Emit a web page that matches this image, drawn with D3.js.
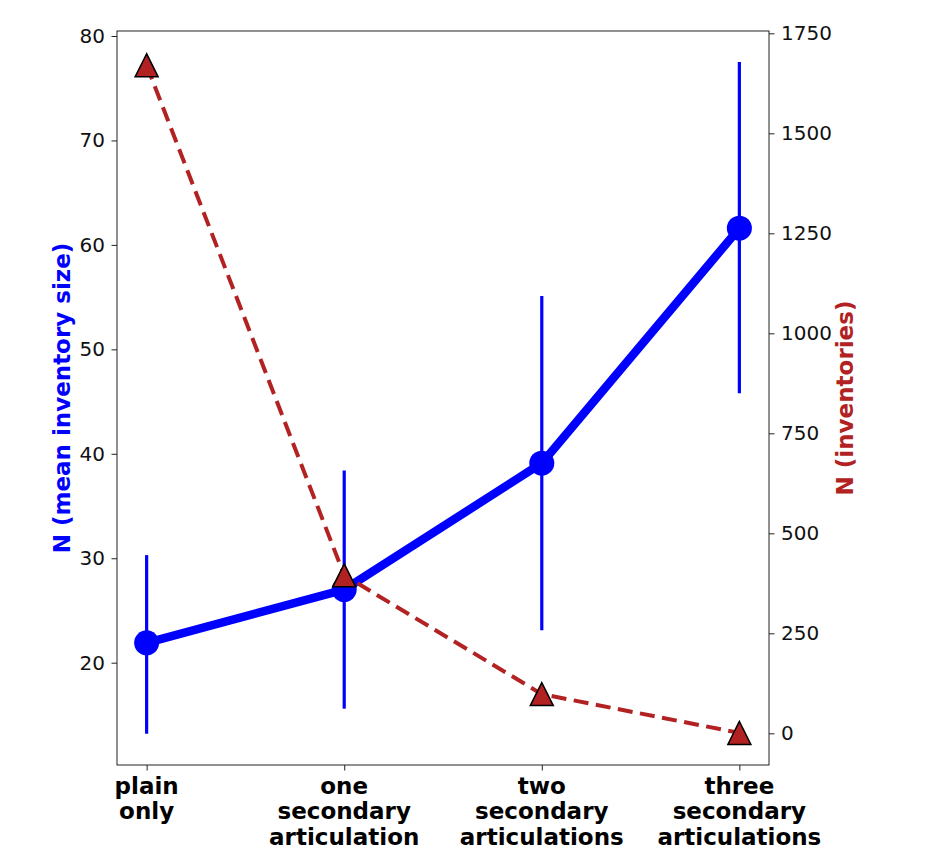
<!DOCTYPE html>
<html><head><meta charset="utf-8">
<script src="https://cdn.jsdelivr.net/npm/d3@7"></script>
<style>body{margin:0;background:#fff}svg{display:block}text{font-family:"DejaVu Sans",sans-serif}</style>
</head><body><svg id="c" width="936" height="855"></svg>
<script>
const categories = [["plain","only"],["one","secondary","articulation"],["two","secondary","articulations"],["three","secondary","articulations"]];
const meanSize = [21.9, 27.0, 39.1, 61.6];
const errLow = [13.2, 15.6, 23.1, 45.8];
const errHigh = [30.3, 38.4, 55.1, 77.5];
const inventories = [1670, 395, 98, 1];
const leftTicks = [20,30,40,50,60,70,80];
const rightTicks = [0,250,500,750,1000,1250,1500,1750];

const svg = d3.select("#c");
const L=117, R=769, T=31, B=765;
const x = d3.scaleLinear().domain([-0.15,3.15]).range([L,R]);
const yL = d3.scaleLinear().domain([20,80]).range([662.7,36.0]);
const yR = d3.scaleLinear().domain([0,1750]).range([733.3,33.3]);
const blue="#0000ff", red="#b22222";
const idx = d3.range(categories.length);

// blue series
svg.append("g").selectAll("line").data(idx).join("line")
  .attr("x1",i=>x(i)).attr("x2",i=>x(i))
  .attr("y1",i=>yL(errLow[i])).attr("y2",i=>yL(errHigh[i]))
  .attr("stroke",blue).attr("stroke-width",3.2);
svg.append("path").datum(idx)
  .attr("d",d3.line().x(i=>x(i)).y(i=>yL(meanSize[i])))
  .attr("fill","none").attr("stroke",blue).attr("stroke-width",8.5).attr("stroke-linejoin","round");
svg.append("g").selectAll("circle").data(idx).join("circle")
  .attr("cx",i=>x(i)).attr("cy",i=>yL(meanSize[i])).attr("r",12.5).attr("fill",blue);

// red series
svg.append("path").datum(idx)
  .attr("d",d3.line().x(i=>x(i)).y(i=>yR(inventories[i])))
  .attr("fill","none").attr("stroke",red).attr("stroke-width",4).attr("stroke-dasharray","15,7.5");
const triType = {draw(ctx,size){const h=Math.sqrt(size)/2;ctx.moveTo(0,-h);ctx.lineTo(-h,h);ctx.lineTo(h,h);ctx.closePath();}};
const tri = d3.symbol().type(triType).size(23*23);
svg.append("g").selectAll("path").data(idx).join("path")
  .attr("transform",i=>`translate(${x(i)},${yR(inventories[i])})`)
  .attr("d",tri).attr("fill",red).attr("stroke","#000").attr("stroke-width",1.5).attr("stroke-linejoin","miter");

// frame
svg.append("rect").attr("x",L).attr("y",T).attr("width",R-L).attr("height",B-T)
  .attr("fill","none").attr("stroke","#222").attr("stroke-width",1);

// axes
const gl = svg.append("g").attr("transform",`translate(${L},0)`)
  .call(d3.axisLeft(yL).tickValues(leftTicks).tickSize(5.5).tickPadding(6.5));
const gr = svg.append("g").attr("transform",`translate(${R},0)`)
  .call(d3.axisRight(yR).tickValues(rightTicks).tickFormat(d3.format("d")).tickSize(5.5).tickPadding(6.5));
const gx = svg.append("g").attr("transform",`translate(0,${B})`)
  .call(d3.axisBottom(x).tickValues(idx).tickSize(5.5).tickFormat(()=>""));
[gl,gr,gx].forEach(g=>{g.select(".domain").remove();g.selectAll(".tick line").attr("stroke","#222");
  g.selectAll(".tick text").attr("font-size",20).attr("fill","#111").attr("font-family","DejaVu Sans");});

// x labels
const xl = svg.append("g").selectAll("text").data(idx).join("text")
  .attr("x",i=>x(i)).attr("y",793.5).attr("text-anchor","middle")
  .attr("font-size",23).attr("font-weight","bold").attr("fill","#000");
xl.each(function(i){const t=d3.select(this);categories[i].forEach((s,k)=>{
  t.append("tspan").attr("x",x(i)).attr("dy",k===0?0:25.8).text(s);});});

// axis titles
svg.append("text").attr("transform",`translate(70,${(T+B)/2}) rotate(-90)`)
  .attr("text-anchor","middle").attr("font-size",23).attr("font-weight","bold").attr("fill",blue)
  .text("N (mean inventory size)");
svg.append("text").attr("transform",`translate(853,${(T+B)/2}) rotate(-90)`)
  .attr("text-anchor","middle").attr("font-size",23).attr("font-weight","bold").attr("fill",red)
  .text("N (inventories)");
</script></body></html>
